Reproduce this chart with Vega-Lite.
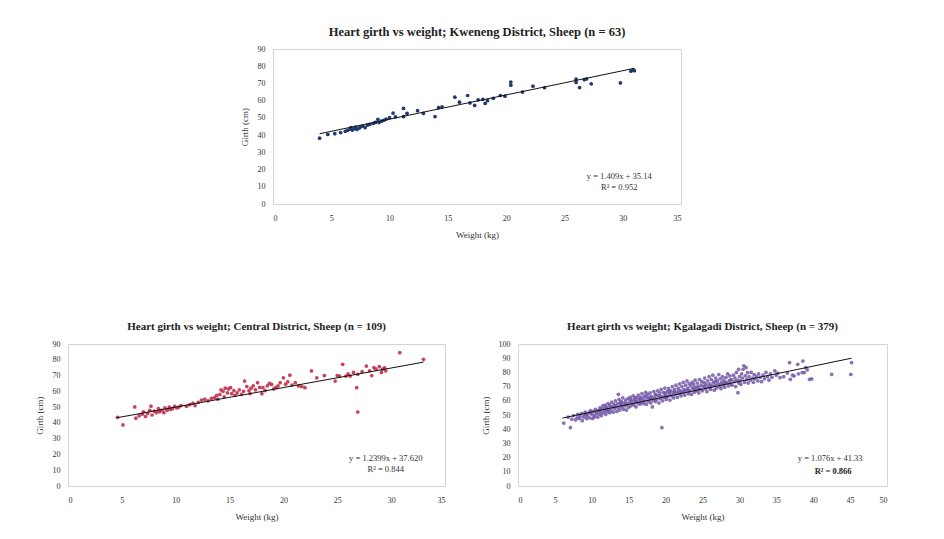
{
  "$schema": "https://vega.github.io/schema/vega-lite/v6.json",
  "background": "white",
  "padding": {"left": 34, "top": 25, "right": 5, "bottom": 5},
  "config": {
    "font": "Liberation Serif",
    "view": {"stroke": "#d4d4d4", "strokeWidth": 1},
    "axis": {"grid": false, "ticks": false, "domain": false, "labelOverlap": false, "labelFont": "Liberation Serif", "labelFontSize": 8, "labelColor": "#333333", "labelPadding": 8, "titleFont": "Liberation Serif", "titleFontSize": 9, "titleFontWeight": "normal", "titleColor": "#333333", "titlePadding": 8},
    "axisX": {"labelPadding": 10},
    "title": {"font": "Liberation Serif", "fontSize": 11, "fontWeight": "bold", "color": "#222222", "offset": 8, "frame": "group"}
  },
  "datasets": {
    "kweneng": [
      {"weight":4.0,"girth":38.2},{"weight":4.7,"girth":40.4},{"weight":5.3,"girth":40.8},{"weight":5.8,"girth":41.5},{"weight":6.2,"girth":42.2},{"weight":6.4,"girth":42.8},{"weight":6.6,"girth":43.5},{"weight":6.7,"girth":44.3},{"weight":6.8,"girth":42.9},{"weight":7.0,"girth":43.8},
      {"weight":7.1,"girth":44.6},{"weight":7.2,"girth":43.3},{"weight":7.4,"girth":44.1},{"weight":7.5,"girth":44.8},{"weight":7.7,"girth":45.2},{"weight":7.9,"girth":44.4},{"weight":8.1,"girth":45.8},{"weight":8.3,"girth":46.2},{"weight":8.6,"girth":46.8},{"weight":8.8,"girth":47.4},
      {"weight":9.0,"girth":49.2},{"weight":9.1,"girth":47.3},{"weight":9.3,"girth":48.1},{"weight":9.5,"girth":48.6},{"weight":9.7,"girth":49.3},{"weight":10.0,"girth":50.1},{"weight":10.3,"girth":52.8},{"weight":10.5,"girth":50.6},{"weight":11.2,"girth":55.5},{"weight":11.2,"girth":50.8},
      {"weight":11.5,"girth":52.6},{"weight":12.4,"girth":54.2},{"weight":12.9,"girth":52.6},{"weight":13.9,"girth":50.8},{"weight":14.2,"girth":55.9},{"weight":14.5,"girth":56.4},{"weight":15.6,"girth":62.0},{"weight":16.0,"girth":59.1},{"weight":16.7,"girth":63.0},{"weight":16.9,"girth":58.7},
      {"weight":17.3,"girth":57.2},{"weight":17.6,"girth":60.5},{"weight":18.0,"girth":60.8},{"weight":18.2,"girth":58.4},{"weight":18.4,"girth":60.0},{"weight":18.9,"girth":61.4},{"weight":19.5,"girth":63.0},{"weight":19.9,"girth":62.6},{"weight":20.4,"girth":70.8},{"weight":20.4,"girth":69.0},
      {"weight":21.4,"girth":65.0},{"weight":22.3,"girth":68.4},{"weight":23.3,"girth":67.5},{"weight":26.0,"girth":72.5},{"weight":26.0,"girth":70.6},{"weight":26.3,"girth":67.6},{"weight":26.7,"girth":72.2},{"weight":26.9,"girth":72.6},{"weight":27.3,"girth":69.8},{"weight":29.8,"girth":70.3},
      {"weight":30.7,"girth":77.1},{"weight":30.9,"girth":77.9},{"weight":31.0,"girth":77.4}
    ],
    "kwTrend": [{"weight":4.0,"girth":40.8},{"weight":31.0,"girth":78.8}],
    "central": [
      {"weight":4.6,"girth":43.5},{"weight":5.1,"girth":38.7},{"weight":6.2,"girth":50.1},{"weight":6.3,"girth":43},{"weight":6.6,"girth":44.5},{"weight":6.9,"girth":45.5},{"weight":7.0,"girth":47},{"weight":7.2,"girth":44},{"weight":7.4,"girth":46},{"weight":7.6,"girth":48},
      {"weight":7.7,"girth":50.6},{"weight":7.8,"girth":45},{"weight":8.0,"girth":47.5},{"weight":8.2,"girth":46.5},{"weight":8.4,"girth":49},{"weight":8.5,"girth":47},{"weight":8.7,"girth":48},{"weight":8.9,"girth":46.5},{"weight":9.0,"girth":49.5},{"weight":9.2,"girth":48},
      {"weight":9.4,"girth":50},{"weight":9.5,"girth":48.5},{"weight":9.7,"girth":49},{"weight":9.9,"girth":50.5},{"weight":10.1,"girth":49.5},{"weight":10.3,"girth":50},{"weight":10.5,"girth":51},{"weight":11.0,"girth":50.5},{"weight":11.3,"girth":51.5},{"weight":11.6,"girth":52.5},
      {"weight":11.8,"girth":51},{"weight":12.1,"girth":53},{"weight":12.4,"girth":54.5},{"weight":12.7,"girth":55},{"weight":13.0,"girth":54},{"weight":13.3,"girth":55.5},{"weight":13.6,"girth":56},{"weight":13.8,"girth":57.5},{"weight":13.9,"girth":55},{"weight":14.1,"girth":58},
      {"weight":14.2,"girth":61},{"weight":14.4,"girth":60},{"weight":14.5,"girth":56.5},{"weight":14.6,"girth":62},{"weight":14.8,"girth":59},{"weight":14.9,"girth":61.5},{"weight":15.1,"girth":62.3},{"weight":15.2,"girth":58.5},{"weight":15.4,"girth":60.5},{"weight":15.5,"girth":57.5},
      {"weight":15.7,"girth":59},{"weight":15.9,"girth":61},{"weight":16.1,"girth":58},{"weight":16.3,"girth":60},{"weight":16.4,"girth":66.5},{"weight":16.6,"girth":63},{"weight":16.8,"girth":60.5},{"weight":16.9,"girth":58.5},{"weight":17.0,"girth":62},{"weight":17.2,"girth":63.5},
      {"weight":17.4,"girth":61},{"weight":17.6,"girth":65.5},{"weight":17.8,"girth":62.5},{"weight":18.0,"girth":58.5},{"weight":18.1,"girth":62.3},{"weight":18.3,"girth":60.5},{"weight":18.5,"girth":63.5},{"weight":18.7,"girth":65},{"weight":18.9,"girth":64.4},{"weight":19.1,"girth":61.5},
      {"weight":19.3,"girth":62.5},{"weight":19.5,"girth":63.4},{"weight":19.7,"girth":65.5},{"weight":20.0,"girth":68.6},{"weight":20.2,"girth":64.5},{"weight":20.4,"girth":66},{"weight":20.6,"girth":70.2},{"weight":20.8,"girth":64},{"weight":21.1,"girth":65.5},{"weight":21.4,"girth":63.4},
      {"weight":21.7,"girth":63},{"weight":22.0,"girth":62.3},{"weight":22.6,"girth":72.9},{"weight":23.1,"girth":68.6},{"weight":23.8,"girth":70},{"weight":24.8,"girth":66.5},{"weight":25.0,"girth":70},{"weight":25.2,"girth":69.7},{"weight":25.5,"girth":77.1},{"weight":25.8,"girth":69.7},
      {"weight":26.0,"girth":71},{"weight":26.2,"girth":69.7},{"weight":26.5,"girth":72},{"weight":26.8,"girth":62.3},{"weight":26.9,"girth":46.9},{"weight":26.9,"girth":70.8},{"weight":27.3,"girth":72.5},{"weight":27.7,"girth":76},{"weight":28.0,"girth":73},{"weight":28.2,"girth":70},
      {"weight":28.4,"girth":75},{"weight":28.6,"girth":74},{"weight":28.9,"girth":75.6},{"weight":29.1,"girth":72},{"weight":29.2,"girth":74},{"weight":29.4,"girth":74.9},{"weight":29.5,"girth":73},{"weight":30.8,"girth":84.5},{"weight":33.0,"girth":80.3}
    ],
    "ceTrend": [{"weight":4.5,"girth":43.2},{"weight":33.0,"girth":78.5}],
    "kgalagadi": [
      {"weight":6.2,"girth":44.3},{"weight":7.1,"girth":41.1},{"weight":6.8,"girth":48.5},{"weight":7.3,"girth":47},{"weight":7.5,"girth":49.5},{"weight":7.8,"girth":46.5},{"weight":8.0,"girth":48},{"weight":8.1,"girth":50.5},{"weight":8.3,"girth":47.5},{"weight":8.4,"girth":49},
      {"weight":8.6,"girth":51},{"weight":8.7,"girth":46},{"weight":8.9,"girth":48.5},{"weight":9.0,"girth":50},{"weight":9.1,"girth":52},{"weight":9.3,"girth":47.5},{"weight":9.4,"girth":49.5},{"weight":9.6,"girth":51.5},{"weight":9.7,"girth":48},{"weight":9.8,"girth":53},
      {"weight":10.0,"girth":50.5},{"weight":10.1,"girth":47.5},{"weight":10.2,"girth":52.5},{"weight":10.4,"girth":49.5},{"weight":10.5,"girth":54},{"weight":10.6,"girth":51},{"weight":10.8,"girth":48.5},{"weight":10.9,"girth":53},{"weight":11.0,"girth":50.5},{"weight":11.1,"girth":55},
      {"weight":11.2,"girth":52},{"weight":11.3,"girth":49.5},{"weight":11.4,"girth":54.5},{"weight":11.5,"girth":56.5},{"weight":11.6,"girth":51.5},{"weight":11.7,"girth":53.5},{"weight":11.8,"girth":57},{"weight":11.9,"girth":50.5},{"weight":12.0,"girth":55},{"weight":12.1,"girth":52.5},
      {"weight":12.2,"girth":58},{"weight":12.3,"girth":54},{"weight":12.4,"girth":51.5},{"weight":12.5,"girth":56},{"weight":12.6,"girth":53},{"weight":12.7,"girth":59},{"weight":12.8,"girth":55.5},{"weight":12.9,"girth":52},{"weight":13.0,"girth":57.5},{"weight":13.1,"girth":54.5},
      {"weight":13.2,"girth":60},{"weight":13.3,"girth":56},{"weight":13.4,"girth":52.5},{"weight":13.5,"girth":58},{"weight":13.6,"girth":64.6},{"weight":13.6,"girth":55},{"weight":13.7,"girth":61},{"weight":13.8,"girth":53.5},{"weight":13.9,"girth":57},{"weight":14.0,"girth":59.5},
      {"weight":14.1,"girth":55.5},{"weight":14.2,"girth":62},{"weight":14.3,"girth":54},{"weight":14.4,"girth":58.5},{"weight":14.5,"girth":56.5},{"weight":14.6,"girth":60.5},{"weight":14.7,"girth":53.5},{"weight":14.8,"girth":57.5},{"weight":14.9,"girth":61.5},{"weight":15.0,"girth":55.5},
      {"weight":15.1,"girth":59},{"weight":15.2,"girth":62.5},{"weight":15.3,"girth":56.5},{"weight":15.4,"girth":60},{"weight":15.5,"girth":58},{"weight":15.6,"girth":63.5},{"weight":15.7,"girth":57},{"weight":15.8,"girth":61},{"weight":15.9,"girth":59.5},{"weight":16.0,"girth":55.7},
      {"weight":16.1,"girth":62},{"weight":16.2,"girth":58.5},{"weight":16.3,"girth":64},{"weight":16.4,"girth":60.5},{"weight":16.5,"girth":57.5},{"weight":16.6,"girth":62.5},{"weight":16.7,"girth":59},{"weight":16.8,"girth":65},{"weight":16.9,"girth":61},{"weight":17.0,"girth":58},
      {"weight":17.1,"girth":63},{"weight":17.2,"girth":60},{"weight":17.3,"girth":66},{"weight":17.4,"girth":57.5},{"weight":17.5,"girth":62},{"weight":17.6,"girth":64.5},{"weight":17.7,"girth":59.5},{"weight":17.8,"girth":61.5},{"weight":17.9,"girth":65.5},{"weight":18.0,"girth":58.5},
      {"weight":18.1,"girth":63},{"weight":18.2,"girth":55.7},{"weight":18.3,"girth":60.5},{"weight":18.4,"girth":66.5},{"weight":18.5,"girth":62},{"weight":18.6,"girth":59.5},{"weight":18.7,"girth":64},{"weight":18.8,"girth":61},{"weight":18.9,"girth":67},{"weight":19.0,"girth":63.5},
      {"weight":19.1,"girth":58.5},{"weight":19.2,"girth":65.5},{"weight":19.3,"girth":61.5},{"weight":19.5,"girth":41.1},{"weight":19.4,"girth":68},{"weight":19.5,"girth":63},{"weight":19.6,"girth":60},{"weight":19.7,"girth":66},{"weight":19.8,"girth":62.5},{"weight":19.9,"girth":69},
      {"weight":20.0,"girth":64},{"weight":20.1,"girth":61},{"weight":20.2,"girth":66.5},{"weight":20.3,"girth":63},{"weight":20.4,"girth":68.5},{"weight":20.5,"girth":65},{"weight":20.6,"girth":60.5},{"weight":20.7,"girth":67},{"weight":20.8,"girth":63.5},{"weight":20.9,"girth":70},
      {"weight":21.0,"girth":65.5},{"weight":21.1,"girth":62},{"weight":21.2,"girth":68},{"weight":21.3,"girth":64.5},{"weight":21.4,"girth":71},{"weight":21.5,"girth":66},{"weight":21.6,"girth":62.5},{"weight":21.7,"girth":69},{"weight":21.8,"girth":65},{"weight":21.9,"girth":72},
      {"weight":22.0,"girth":67},{"weight":22.1,"girth":63.5},{"weight":22.2,"girth":70},{"weight":22.3,"girth":66},{"weight":22.4,"girth":73},{"weight":22.5,"girth":68},{"weight":22.6,"girth":64},{"weight":22.7,"girth":71},{"weight":22.8,"girth":67.5},{"weight":22.9,"girth":74},
      {"weight":23.0,"girth":69},{"weight":23.1,"girth":65},{"weight":23.2,"girth":72},{"weight":23.3,"girth":67},{"weight":23.4,"girth":70.5},{"weight":23.5,"girth":64.5},{"weight":23.6,"girth":73},{"weight":23.7,"girth":68.5},{"weight":23.8,"girth":71.5},{"weight":23.9,"girth":66},
      {"weight":24.0,"girth":74.5},{"weight":24.1,"girth":69.5},{"weight":24.2,"girth":67},{"weight":24.3,"girth":72.5},{"weight":24.4,"girth":70},{"weight":24.5,"girth":65.5},{"weight":24.6,"girth":75},{"weight":24.7,"girth":68},{"weight":24.8,"girth":71},{"weight":24.9,"girth":73.5},
      {"weight":25.0,"girth":67},{"weight":25.1,"girth":70},{"weight":25.2,"girth":73},{"weight":25.3,"girth":76},{"weight":25.4,"girth":68.5},{"weight":25.5,"girth":71.5},{"weight":25.6,"girth":66.5},{"weight":25.7,"girth":74},{"weight":25.8,"girth":69.5},{"weight":25.9,"girth":77},
      {"weight":26.0,"girth":72},{"weight":26.1,"girth":68},{"weight":26.2,"girth":75},{"weight":26.3,"girth":70.5},{"weight":26.4,"girth":78},{"weight":26.5,"girth":73},{"weight":26.6,"girth":67.5},{"weight":26.7,"girth":71},{"weight":26.8,"girth":76},{"weight":26.9,"girth":69},
      {"weight":27.0,"girth":74},{"weight":27.1,"girth":72},{"weight":27.2,"girth":78.5},{"weight":27.3,"girth":70},{"weight":27.4,"girth":75.5},{"weight":27.5,"girth":68.5},{"weight":27.6,"girth":73},{"weight":27.7,"girth":77},{"weight":27.8,"girth":71},{"weight":27.9,"girth":74.5},
      {"weight":28.0,"girth":69.5},{"weight":28.2,"girth":76.5},{"weight":28.3,"girth":72.5},{"weight":28.4,"girth":79},{"weight":28.5,"girth":70.5},{"weight":28.6,"girth":74},{"weight":28.7,"girth":77.5},{"weight":28.8,"girth":72},{"weight":28.9,"girth":75},{"weight":29.0,"girth":71},
      {"weight":29.2,"girth":78},{"weight":29.3,"girth":73.5},{"weight":29.4,"girth":76},{"weight":29.5,"girth":70},{"weight":29.6,"girth":80},{"weight":29.7,"girth":74.5},{"weight":29.8,"girth":65.7},{"weight":29.9,"girth":82.2},{"weight":29.9,"girth":72.5},{"weight":30.0,"girth":77},
      {"weight":30.1,"girth":74},{"weight":30.2,"girth":71.5},{"weight":30.3,"girth":79},{"weight":30.4,"girth":76},{"weight":30.5,"girth":82.2},{"weight":30.6,"girth":84.6},{"weight":30.7,"girth":73},{"weight":30.8,"girth":77.5},{"weight":30.9,"girth":83.3},{"weight":31.0,"girth":75},
      {"weight":31.1,"girth":79.9},{"weight":31.2,"girth":72.5},{"weight":31.3,"girth":77},{"weight":31.5,"girth":74.5},{"weight":31.6,"girth":80},{"weight":31.8,"girth":76},{"weight":31.9,"girth":73},{"weight":32.0,"girth":78.5},{"weight":32.1,"girth":75.5},{"weight":32.3,"girth":77},
      {"weight":32.5,"girth":74},{"weight":32.6,"girth":79},{"weight":32.8,"girth":76.5},{"weight":33.0,"girth":73.5},{"weight":33.2,"girth":78},{"weight":33.4,"girth":75.5},{"weight":33.6,"girth":80},{"weight":33.8,"girth":77},{"weight":34.0,"girth":74.5},{"weight":34.2,"girth":79},
      {"weight":34.4,"girth":76.5},{"weight":34.8,"girth":81},{"weight":35.0,"girth":78},{"weight":35.5,"girth":76.3},{"weight":35.2,"girth":79.5},{"weight":36.0,"girth":77},{"weight":36.5,"girth":79.5},{"weight":36.8,"girth":86.8},{"weight":36.9,"girth":75.1},{"weight":37.2,"girth":78},
      {"weight":37.4,"girth":77.5},{"weight":37.9,"girth":85.7},{"weight":38.0,"girth":79},{"weight":38.5,"girth":79.9},{"weight":38.6,"girth":88},{"weight":38.8,"girth":79.9},{"weight":39.0,"girth":83.3},{"weight":39.2,"girth":81.8},{"weight":39.5,"girth":75.1},{"weight":39.8,"girth":75.4},
      {"weight":42.5,"girth":78.6},{"weight":45.1,"girth":78.6},{"weight":45.2,"girth":86.8},
      {"weight":9.2,"girth":50.5},{"weight":9.9,"girth":51.5},{"weight":10.7,"girth":52.5},{"weight":11.1,"girth":53.5},{"weight":11.9,"girth":55.5},{"weight":12.4,"girth":57},{"weight":13.1,"girth":56.5},{"weight":13.9,"girth":59},{"weight":14.6,"girth":58},{"weight":15.3,"girth":61},
      {"weight":15.9,"girth":62.5},{"weight":16.6,"girth":61.5},{"weight":17.3,"girth":63.5},{"weight":17.9,"girth":62.5},{"weight":18.6,"girth":64.5},{"weight":19.2,"girth":63.5},{"weight":19.9,"girth":65},{"weight":20.5,"girth":66.5},{"weight":21.2,"girth":66.5},{"weight":21.8,"girth":67.5},
      {"weight":22.5,"girth":66.5},{"weight":23.1,"girth":67.5},{"weight":23.8,"girth":69},{"weight":24.5,"girth":68.5},{"weight":25.3,"girth":70.5},{"weight":26.0,"girth":69.5},{"weight":26.7,"girth":73.5},{"weight":27.4,"girth":71.5},{"weight":28.1,"girth":73},{"weight":28.8,"girth":74.5},
      {"weight":10.3,"girth":48.5},{"weight":12.0,"girth":53.5},{"weight":14.0,"girth":57.5},{"weight":16.0,"girth":59.5},{"weight":18.0,"girth":61.5},{"weight":20.0,"girth":62.5},{"weight":22.0,"girth":65.5},{"weight":24.0,"girth":67.5},{"weight":26.0,"girth":70.5},{"weight":28.0,"girth":72}
    ],
    "kgTrend": [{"weight":6.0,"girth":47.8},{"weight":45.2,"girth":90.0}]
  },
  "bounds": "flush",
  "spacing": 295,
  "vconcat": [
    {
      "bounds": "flush",
      "spacing": 0,
      "hconcat": [
        {"width": 205, "height": 10, "data": {"values": []}, "mark": "point", "encoding": {}, "view": {"stroke": null}},
        {
          "width": 408, "height": 155,
          "title": {"text": "Heart girth vs weight; Kweneng District, Sheep (n = 63)", "offset": 7, "fontSize": 12.5},
          "layer": [
            {"data": {"name": "kweneng"}, "mark": {"type": "point", "filled": true, "size": 14, "color": "#1f3a6e", "opacity": 1},
             "encoding": {
               "x": {"field": "weight", "type": "quantitative", "title": "Weight (kg)", "scale": {"domain": [0, 35], "nice": false}, "axis": {"values": [0,5,10,15,20,25,30,35]}},
               "y": {"field": "girth", "type": "quantitative", "title": "Girth (cm)", "scale": {"domain": [0, 90], "nice": false}, "axis": {"values": [0,10,20,30,40,50,60,70,80,90]}}}},
            {"data": {"name": "kwTrend"}, "mark": {"type": "line", "color": "#111111", "strokeWidth": 1},
             "encoding": {"x": {"field": "weight", "type": "quantitative", "title": "Weight (kg)", "axis": {"values": [0,5,10,15,20,25,30,35]}}, "y": {"field": "girth", "type": "quantitative", "title": "Girth (cm)", "axis": {"values": [0,10,20,30,40,50,60,70,80,90]}}}},
            {"data": {"values": [{}]}, "mark": {"type": "text", "text": "y = 1.409x + 35.14", "fontSize": 8.5, "color": "#333333", "align": "center"},
             "encoding": {"x": {"datum": 29.7, "type": "quantitative", "title": "Weight (kg)", "axis": {"values": [0,5,10,15,20,25,30,35]}}, "y": {"datum": 16.5, "type": "quantitative", "title": "Girth (cm)", "axis": {"values": [0,10,20,30,40,50,60,70,80,90]}}}},
            {"data": {"values": [{}]}, "mark": {"type": "text", "text": "R² = 0.952", "fontSize": 8.5, "color": "#333333", "align": "center"},
             "encoding": {"x": {"datum": 29.7, "type": "quantitative", "title": "Weight (kg)", "axis": {"values": [0,5,10,15,20,25,30,35]}}, "y": {"datum": 10.0, "type": "quantitative", "title": "Girth (cm)", "axis": {"values": [0,10,20,30,40,50,60,70,80,90]}}}}
          ]
        }
      ]
    },
    {
      "bounds": "flush",
      "spacing": 73,
      "hconcat": [
        {
          "width": 377, "height": 142,
          "title": {"text": "Heart girth vs weight; Central District, Sheep (n = 109)", "offset": 8},
          "layer": [
            {"data": {"name": "central"}, "mark": {"type": "point", "filled": true, "size": 14, "color": "#c0304a", "opacity": 0.9},
             "encoding": {
               "x": {"field": "weight", "type": "quantitative", "title": "Weight (kg)", "scale": {"domain": [0, 35], "nice": false}, "axis": {"values": [0,5,10,15,20,25,30,35]}},
               "y": {"field": "girth", "type": "quantitative", "title": "Girth (cm)", "scale": {"domain": [0, 90], "nice": false}, "axis": {"values": [0,10,20,30,40,50,60,70,80,90]}}}},
            {"data": {"name": "ceTrend"}, "mark": {"type": "line", "color": "#111111", "strokeWidth": 1},
             "encoding": {"x": {"field": "weight", "type": "quantitative", "title": "Weight (kg)", "axis": {"values": [0,5,10,15,20,25,30,35]}}, "y": {"field": "girth", "type": "quantitative", "title": "Girth (cm)", "axis": {"values": [0,10,20,30,40,50,60,70,80,90]}}}},
            {"data": {"values": [{}]}, "mark": {"type": "text", "text": "y = 1.2399x + 37.620", "fontSize": 8.5, "color": "#333333", "align": "center"},
             "encoding": {"x": {"datum": 29.5, "type": "quantitative", "title": "Weight (kg)", "axis": {"values": [0,5,10,15,20,25,30,35]}}, "y": {"datum": 17.7, "type": "quantitative", "title": "Girth (cm)", "axis": {"values": [0,10,20,30,40,50,60,70,80,90]}}}},
            {"data": {"values": [{}]}, "mark": {"type": "text", "text": "R² = 0.844", "fontSize": 8.5, "color": "#333333", "align": "center"},
             "encoding": {"x": {"datum": 29.5, "type": "quantitative", "title": "Weight (kg)", "axis": {"values": [0,5,10,15,20,25,30,35]}}, "y": {"datum": 10.8, "type": "quantitative", "title": "Girth (cm)", "axis": {"values": [0,10,20,30,40,50,60,70,80,90]}}}}
          ]
        },
        {
          "width": 369, "height": 142,
          "title": {"text": "Heart girth vs weight; Kgalagadi District, Sheep (n = 379)", "offset": 8},
          "layer": [
            {"data": {"name": "kgalagadi"}, "mark": {"type": "point", "filled": true, "size": 14, "color": "#7359a8", "opacity": 0.85},
             "encoding": {
               "x": {"field": "weight", "type": "quantitative", "title": "Weight (kg)", "scale": {"domain": [0, 50], "nice": false}, "axis": {"values": [0,5,10,15,20,25,30,35,40,45,50]}},
               "y": {"field": "girth", "type": "quantitative", "title": "Girth (cm)", "scale": {"domain": [0, 100], "nice": false}, "axis": {"values": [0,10,20,30,40,50,60,70,80,90,100]}}}},
            {"data": {"name": "kgTrend"}, "mark": {"type": "line", "color": "#111111", "strokeWidth": 1},
             "encoding": {"x": {"field": "weight", "type": "quantitative", "title": "Weight (kg)", "axis": {"values": [0,5,10,15,20,25,30,35,40,45,50]}}, "y": {"field": "girth", "type": "quantitative", "title": "Girth (cm)", "axis": {"values": [0,10,20,30,40,50,60,70,80,90,100]}}}},
            {"data": {"values": [{}]}, "mark": {"type": "text", "text": "y = 1.076x + 41.33", "fontSize": 8.5, "color": "#333333", "align": "center"},
             "encoding": {"x": {"datum": 42.3, "type": "quantitative", "title": "Weight (kg)", "axis": {"values": [0,5,10,15,20,25,30,35,40,45,50]}}, "y": {"datum": 19.7, "type": "quantitative", "title": "Girth (cm)", "axis": {"values": [0,10,20,30,40,50,60,70,80,90,100]}}}},
            {"data": {"values": [{}]}, "mark": {"type": "text", "text": "R² = 0.866", "fontSize": 8.5, "color": "#222222", "fontWeight": "bold", "align": "center"},
             "encoding": {"x": {"datum": 42.7, "type": "quantitative", "title": "Weight (kg)", "axis": {"values": [0,5,10,15,20,25,30,35,40,45,50]}}, "y": {"datum": 10.6, "type": "quantitative", "title": "Girth (cm)", "axis": {"values": [0,10,20,30,40,50,60,70,80,90,100]}}}}
          ]
        }
      ]
    }
  ]
}
